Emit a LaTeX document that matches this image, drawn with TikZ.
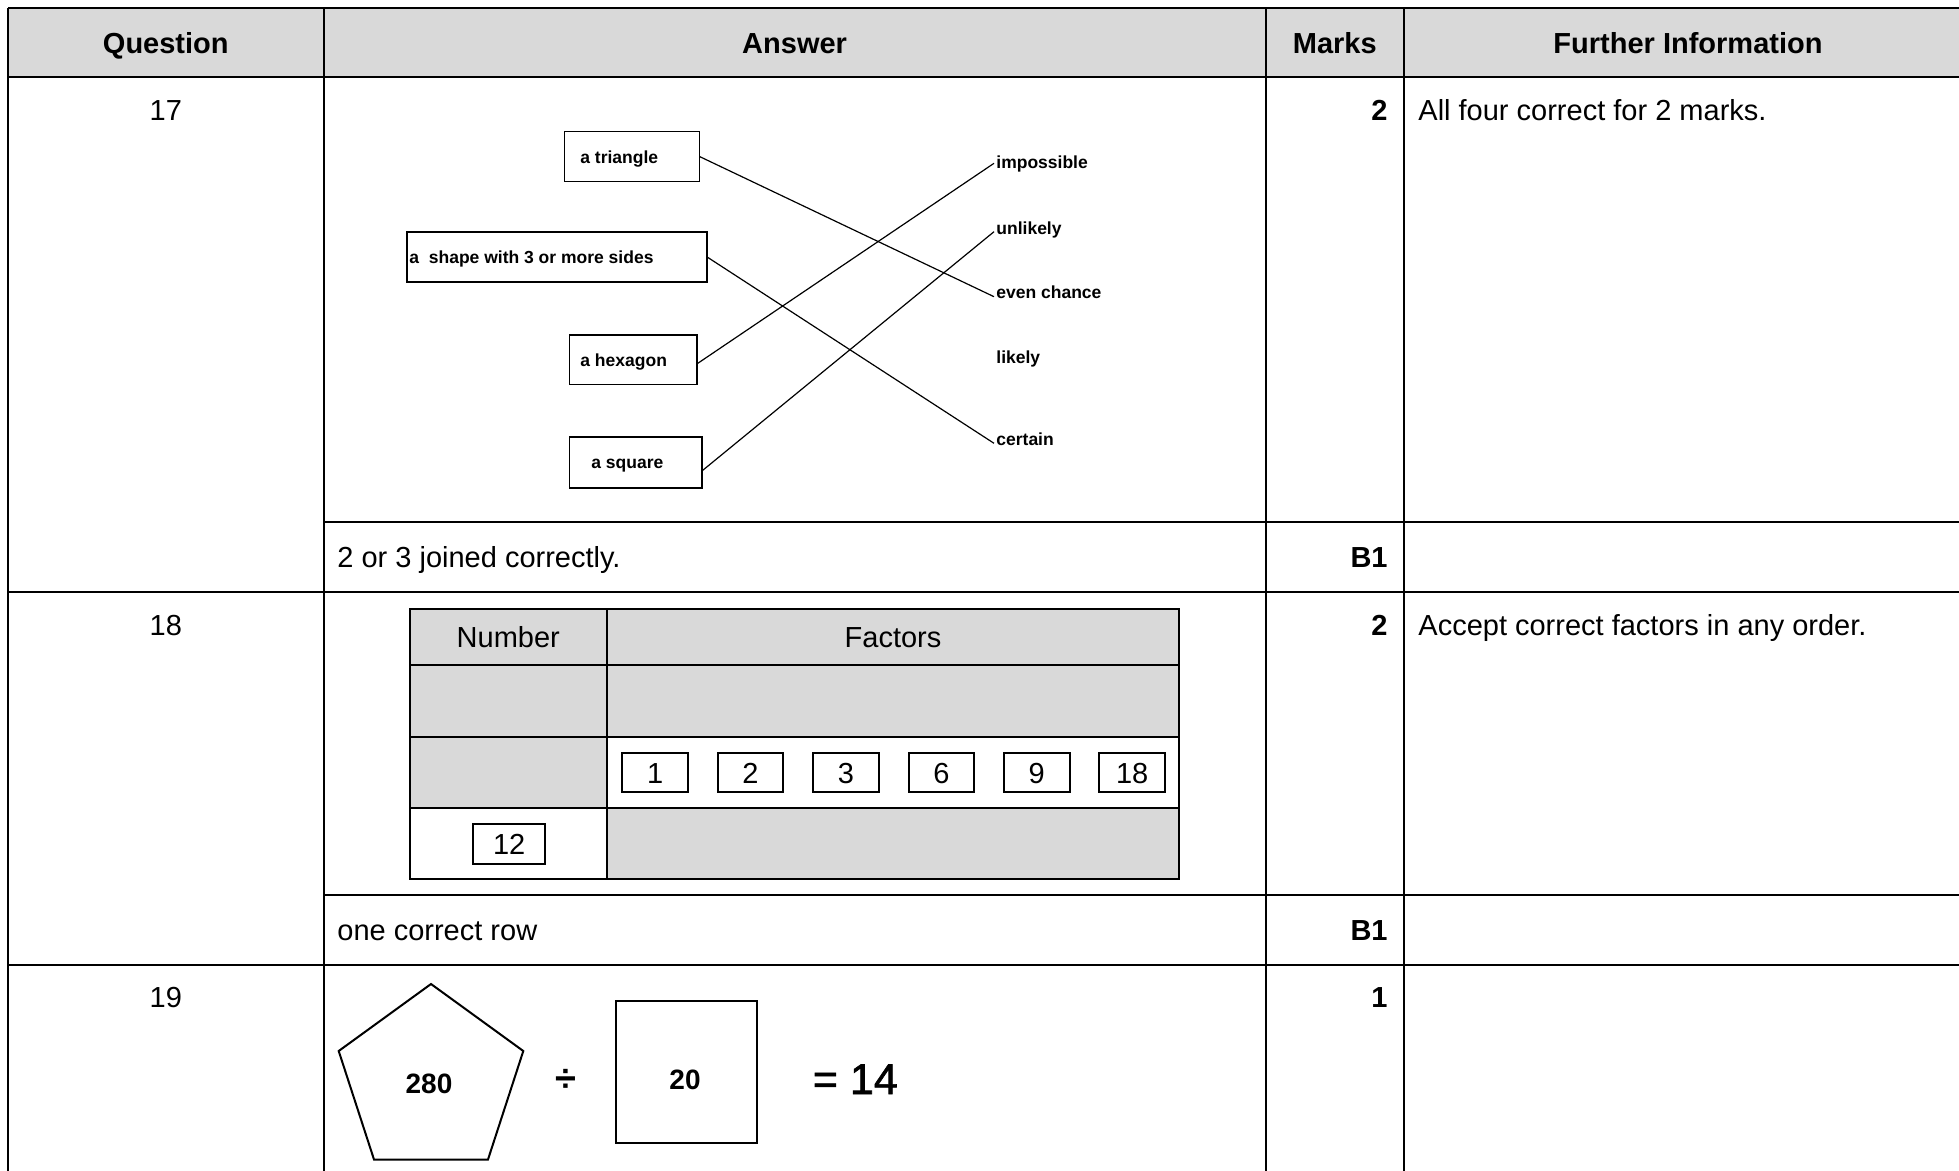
\documentclass[tikz,border=0pt]{standalone}
\usepackage{fontspec}
\setmainfont{Liberation Sans}
\newfontfamily\semibfont[FakeBold=1.5]{Liberation Sans}
\usetikzlibrary{calc}
\definecolor{hdr}{HTML}{D9D9D9}
\tikzset{
  grid/.style={line width=1pt, black},
  main/.style={font=\fontsize{14.5}{17}\selectfont, inner sep=0pt},
  mainb/.style={font=\fontsize{14.5}{17}\selectfont\bfseries, inner sep=0pt},
  mbox/.style={draw, line width=0.75pt, inner sep=0pt, anchor=north west},
  mtext/.style={font=\fontsize{8.75}{10}\selectfont\bfseries, inner sep=0pt, text height=6.3pt, text depth=0pt, anchor=west},
  link/.style={line width=0.6pt},
  numbox/.style={draw, line width=1pt, inner sep=0pt, anchor=north west, font=\fontsize{14.5}{17}\selectfont, text height=10.4pt, text depth=0pt},
  bignum/.style={font=\fontsize{14}{17}\selectfont\bfseries, inner sep=0pt},
}
\begin{document}
\begin{tikzpicture}[x=0.5pt,y=-0.5pt]
\clip (0,0) rectangle (1959,1171);
% ---------- main table ----------
\fill[hdr] (8,8.5) rectangle (1980,77.5);
\draw[grid] (8,8.5) -- (1980,8.5);
\draw[grid] (8,77.5) -- (1980,77.5);
\draw[grid] (323.6,522) -- (1980,522);
\draw[grid] (8,592) -- (1980,592);
\draw[grid] (323.6,895) -- (1980,895);
\draw[grid] (8,964.5) -- (1980,964.5);
\foreach \xx in {8,323.6,1265.6,1404.3} \draw[grid] (\xx,8.5) -- (\xx,1180);
% header
\node[mainb, anchor=base] (hq) at (165.8,54) {Question};
\node[mainb, anchor=base] (ha) at (794.6,54) {Answer};
\node[mainb, anchor=base] (hm) at (1334.8,54) {Marks};
\node[mainb, anchor=base] (hf) at (1688,54) {Further Information};
% row 17
\node[main, anchor=base] (q17) at (165.8,121) {17};
\node[mainb, anchor=base east] (m17) at (1388,121) {2};
\node[main, anchor=base west] (f17) at (1418,121) {All four correct for 2 marks.};
\node[main, anchor=base west] (a17b) at (337,567) {2 or 3 joined correctly.};
\node[mainb, anchor=base east] (m17b) at (1388,567) {B1};
% row 18
\node[main, anchor=base] (q18) at (165.8,635) {18};
\node[mainb, anchor=base east] (m18) at (1388,635) {2};
\node[main, anchor=base west] (f18) at (1418,635) {Accept correct factors in any order.};
\node[main, anchor=base west] (a18b) at (337,940) {one correct row};
\node[mainb, anchor=base east] (m18b) at (1388,940) {B1};
% row 19
\node[main, anchor=base] (q19) at (165.8,1007.5) {19};
\node[mainb, anchor=base east] (m19) at (1388,1007.5) {1};
% ---------- matching diagram ----------
\node[mbox, minimum width=67.5pt, minimum height=25pt] (tri) at (563.5,131) {};
\node[mtext] (tritxt) at (580,157) {a triangle};
\node[mbox, minimum width=150pt, minimum height=25pt] (shp) at (406,231.5) {};
\node[mtext] (shptxt) at (409,257.5) {a\ \ shape with 3 or more sides};
\node[mbox, minimum width=63.75pt, minimum height=24.75pt] (hex) at (568.5,334.5) {};
\node[mtext] (hextxt) at (580,360) {a hexagon};
\node[mbox, minimum width=66.25pt, minimum height=25.25pt] (sqr) at (568.5,436.5) {};
\node[mtext] (sqrtxt) at (591,462.5) {a square};
\node[mtext] (imp) at (996,162) {impossible};
\node[mtext] (unl) at (996,228.5) {unlikely};
\node[mtext] (evn) at (996,292.3) {even chance};
\node[mtext] (lik) at (996,357) {likely};
\node[mtext] (cer) at (996,439.5) {certain};
\draw[link] (tri.east) -- ([xshift=-1pt,yshift=-2.2pt]evn.west);
\draw[link] (shp.east) -- ([xshift=-1pt,yshift=-1.9pt]cer.west);
\draw[link] ([yshift=-1.75pt]hex.east) -- ([xshift=-1pt,yshift=-0.65pt]imp.west);
\draw[link] ([yshift=-4pt]sqr.east) -- ([xshift=-1pt,yshift=-1.6pt]unl.west);
% ---------- factors table ----------
\fill[hdr] (409.5,608.8) rectangle (1179,737);
\fill[hdr] (409.5,737) rectangle (607,808.2);
\fill[hdr] (607,808.2) rectangle (1179,878.6);
\draw[grid] (409.5,608.8) rectangle (1179,878.6);
\draw[grid] (607,608.8) -- (607,878.6);
\foreach \yy in {664.5,737,808.2} \draw[grid] (409.5,\yy) -- (1179,\yy);
\node[main, anchor=base] (tnum) at (508.3,647) {Number};
\node[main, anchor=base] (tfac) at (893,647) {Factors};
\foreach \v [count=\k from 0] in {1,2,3,6,9,18}
  \node[numbox, minimum width=32.75pt, minimum height=19.35pt] (fb\k) at (621.4+95.4*\k,752.3) {\v};
\node[numbox, minimum width=36pt, minimum height=20.15pt] (tw) at (472.2,822.7) {12};
% ---------- row 19 drawing ----------
\draw[line width=1pt, line join=miter] (431,984) -- (523.3,1051) -- (488,1159.5) -- (374,1159.5) -- (338.7,1051) -- cycle;
\node[bignum, anchor=base] (n280) at (429,1093) {280};
\node[font=\fontsize{19}{22}\selectfont\bfseries, inner sep=0pt] (dv) at (566,1080) {÷};
\node[draw, line width=1pt, inner sep=0pt, minimum width=70.6pt, minimum height=71.25pt, anchor=north west] (sq20) at (614.7,999.5) {};
\node[bignum, anchor=base] (n20) at (685,1089) {20};
\node[font=\semibfont\fontsize{21.5}{26}\selectfont, inner sep=0pt, anchor=base west] (eq) at (812.5,1094) {= 14};
\end{tikzpicture}
\end{document}
